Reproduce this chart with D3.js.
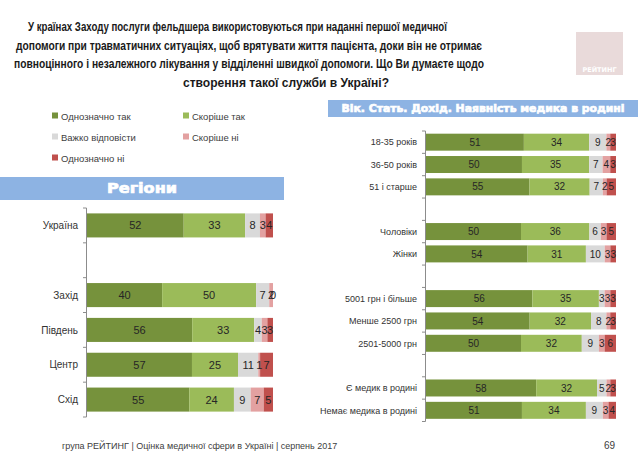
<!DOCTYPE html>
<html><head><meta charset="utf-8">
<script src="https://cdn.jsdelivr.net/npm/d3@7"></script>
<style>
body{margin:0;background:#fff;}
svg{display:block;}
</style></head>
<body>
<svg id="c" width="638" height="456"></svg>
<script>
const seriesNames = ["Однозначно так","Скоріше так","Важко відповісти","Скоріше ні","Однозначно ні"];
const seriesColors = ["#76923C","#9BBB59","#D9D9D9","#E3A1A1","#C0504D"];

const regionCats = ["Україна","","Захід","Південь","Центр","Схід"];
const regionVals = [
  [52,33,8,3,4],
  null,
  [40,50,7,2,0],
  [56,33,4,3,3],
  [57,25,11,1,7],
  [55,24,9,7,5]
];

const demoCats = ["18-35 років","36-50 років","51 і старше","","Чоловіки","Жінки"," ","5001 грн і більше","Менше 2500 грн","2501-5000 грн","  ","Є медик в родині","Немає медика в родині"];
const demoVals = [
  [51,34,9,2,3],
  [50,35,7,4,3],
  [55,32,7,2,5],
  null,
  [50,36,6,3,5],
  [54,31,10,3,3],
  null,
  [56,35,3,3,3],
  [54,32,8,2,3],
  [50,32,9,3,6],
  null,
  [58,32,5,2,3],
  [51,34,9,3,4]
];

const titleLines = [
  "У країнах Заходу послуги фельдшера використовуються при наданні першої медичної",
  "допомоги при травматичних ситуаціях, щоб врятувати життя пацієнта, доки він не отримає",
  "повноцінного і незалежного лікування у відділенні швидкої допомоги. Що Ви думаєте щодо",
  "створення такої служби в Україні?"
];
const titleX = [28,16,14,183];
const titleW = [419,466,470,206];
const footerText = "група РЕЙТИНГ  |  Оцінка медичної сфери в Україні  |  серпень 2017";
const pageNum = "69";

const svg = d3.select("#c");

// title
svg.append("g").selectAll("text").data(titleLines).join("text")
  .attr("x",(d,i)=>titleX[i]).attr("y",(d,i)=>31+i*18.6)
  .attr("textLength",(d,i)=>titleW[i]).attr("lengthAdjust","spacingAndGlyphs")
  .style("font-family","'Liberation Sans',Arial,sans-serif")
  .style("font-weight","bold").style("font-size","13px").style("fill","#1a1a1a")
  .text(d=>d);

// logo
const logo = svg.append("g");
logo.append("rect").attr("x",576).attr("y",32).attr("width",47).attr("height",43).attr("fill","#E9DADA");
logo.append("text").attr("x",599.5).attr("y",72).attr("text-anchor","middle")
  .style("font-family","'DejaVu Sans',sans-serif").style("font-weight","bold").style("font-size","6.5px")
  .style("fill","#fff").text("РЕЙТИНГ");

// legend
const legPos = [[52,116],[183,116],[52,137],[183,137],[52,158]];
const leg = svg.append("g").selectAll("g").data(seriesNames).join("g")
  .attr("transform",(d,i)=>`translate(${legPos[i][0]},${legPos[i][1]})`);
leg.append("rect").attr("x",0).attr("y",-3.5).attr("width",6).attr("height",6).attr("fill",(d,i)=>seriesColors[i]);
leg.append("text").attr("x",9).attr("y",3.5)
  .style("font-family","'Liberation Sans',Arial,sans-serif").style("font-size","9.5px").style("fill","#404040")
  .text(d=>d);

// banners
function banner(x,y,w,h,txt,fs,tw){
  svg.append("rect").attr("x",x).attr("y",y).attr("width",w).attr("height",h).attr("fill","#8DB3E3");
  const t = svg.append("text").attr("x",x+w/2).attr("y",y+h/2+fs*0.36).attr("text-anchor","middle")
    .style("font-family","'DejaVu Sans',sans-serif").style("font-weight","bold")
    .style("font-size",fs+"px").style("fill","#fff")
    .style("stroke","#fff").style("stroke-width","0.7px").text(txt);
  if(tw) t.attr("textLength",tw).attr("lengthAdjust","spacingAndGlyphs");
}
banner(0,177,284,23,"Регіони",13.5,70);
banner(328,100,310,17,"Вік. Стать. Дохід. Наявність медика в родині",11,283);

function chart(cats, vals, x0, x1, y0, y1, pad, labelFs, valFs){
  const y = d3.scaleBand().domain(cats).range([y0,y1]).paddingInner(pad).paddingOuter(pad/2);
  const x = d3.scaleLinear().domain([0,1]).range([x0,x1]);
  const g = svg.append("g");
  const rows = cats.map((c,i)=>({cat:c, vals:vals[i]})).filter(r=>r.vals);
  const segs = [];
  rows.forEach(r=>{
    const tot = d3.sum(r.vals); let acc=0;
    r.vals.forEach((v,k)=>{ segs.push({cat:r.cat,k:k,v:v,a:acc/tot,b:(acc+v)/tot}); acc+=v; });
  });
  g.selectAll("rect.seg").data(segs).join("rect").attr("class","seg")
    .attr("x",d=>x(d.a)).attr("width",d=>Math.max(0,x(d.b)-x(d.a)))
    .attr("y",d=>y(d.cat)).attr("height",y.bandwidth())
    .attr("fill",d=>seriesColors[d.k]);
  g.selectAll("text.val").data(segs).join("text").attr("class","val")
    .attr("x",d=>(x(d.a)+x(d.b))/2).attr("y",d=>y(d.cat)+y.bandwidth()/2+valFs*0.36)
    .attr("text-anchor","middle")
    .style("font-family","'Liberation Sans',Arial,sans-serif")
    .style("font-size",valFs+"px").style("fill","#262626")
    .text(d=>d.v);
  g.append("line").attr("x1",x0-0.5).attr("x2",x0-0.5).attr("y1",y0).attr("y2",y1).attr("stroke","#8c8c8c");
  const bounds = d3.range(cats.length+1).map(i=>y0+i*(y1-y0)/cats.length);
  g.selectAll("line.tk").data(bounds).join("line").attr("class","tk")
    .attr("x1",x0-4).attr("x2",x0-0.5).attr("y1",d=>d).attr("y2",d=>d).attr("stroke","#8c8c8c");
  g.selectAll("text.cat").data(rows).join("text").attr("class","cat")
    .attr("x",x0-9).attr("y",d=>y(d.cat)+y.bandwidth()/2+labelFs*0.36)
    .attr("text-anchor","end")
    .style("font-family","'Liberation Sans',Arial,sans-serif").style("font-size",labelFs+"px").style("fill","#333")
    .text(d=>d.cat);
}
chart(regionCats, regionVals, 87, 273, 208, 417, 0.31, 10, 11);
chart(demoCats, demoVals, 426, 616, 131, 421.5, 0.24, 9, 10);

// footer
svg.append("text").attr("x",62).attr("y",449)
  .style("font-family","'Liberation Sans',Arial,sans-serif").style("font-size","9px").style("fill","#404040")
  .text(footerText);
svg.append("text").attr("x",615).attr("y",449).attr("text-anchor","end")
  .style("font-family","'Liberation Sans',Arial,sans-serif").style("font-size","10px").style("fill","#404040")
  .text(pageNum);
</script>
</body></html>
